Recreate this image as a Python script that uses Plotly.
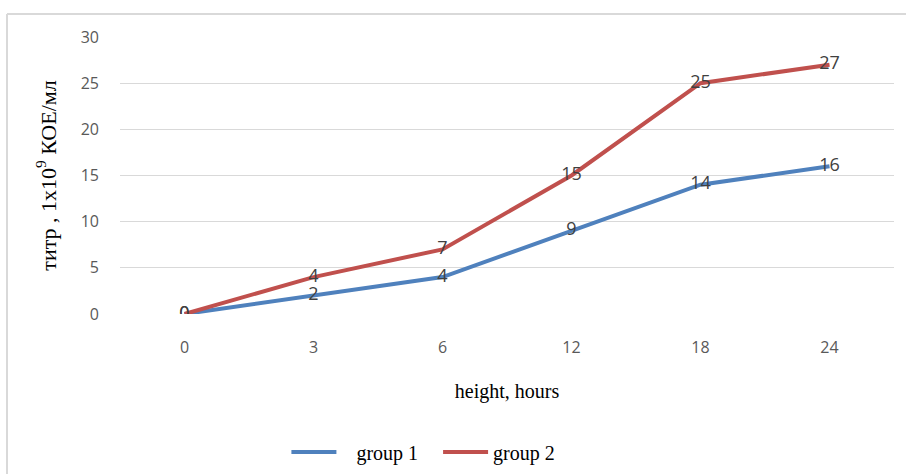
import plotly.graph_objects as go

hours = ["0", "3", "6", "12", "18", "24"]
group1 = [0, 2, 4, 9, 14, 16]
group2 = [0, 4, 7, 15, 25, 27]
y_ticks = [0, 5, 10, 15, 20, 25, 30]

NB = "\u00a0"
series = [("group 1", group1, "#4F81BD", NB * 3 + "group 1" + NB * 3),
          ("group 2", group2, "#C0504D", "group 2")]

fig = go.Figure()
for name, vals, color, label in series:
    fig.add_trace(go.Scatter(
        x=hours, y=vals, name=label, mode="lines",
        line=dict(color=color, width=4),
    ))
for name, vals, color, label in series:
    fig.add_trace(go.Scatter(
        x=hours, y=vals, mode="text", showlegend=False,
        text=[str(v) for v in vals], textposition="middle center",
        textfont=dict(family="Open Sans, Liberation Sans", size=18, color="#404040"),
    ))

fig.update_layout(
    width=906, height=474,
    margin=dict(l=120, r=12, t=37, b=160, autoexpand=False),
    paper_bgcolor="white", plot_bgcolor="white",
    showlegend=True,
    legend=dict(orientation="h", x=0.215, xanchor="left", y=-0.498, yanchor="middle",
                font=dict(family="Liberation Serif", size=20, color="#000000"),
                itemwidth=45, tracegroupgap=0),
    xaxis=dict(type="category", range=[-0.5, 5.5], showgrid=False, zeroline=False, showline=False,
               ticks="", ticklabelstandoff=22,
               tickfont=dict(family="Open Sans, Liberation Sans", size=16, color="#595959"),
               title=dict(text="height, hours", standoff=26,
                          font=dict(family="Liberation Serif", size=20, color="#000000"))),
    yaxis=dict(range=[0, 30], tickvals=y_ticks, showgrid=True, gridcolor="#d9d9d9", gridwidth=1,
               zeroline=False, showline=False, ticks="", ticklabelstandoff=20,
               tickfont=dict(family="Open Sans, Liberation Sans", size=16, color="#595959"),
               title=dict(text="титр , 1x10<sup>9</sup> КОЕ/мл", standoff=18,
                          font=dict(family="Liberation Serif", size=22, color="#000000"))),
)

fig.add_shape(type="line", xref="paper", yref="paper", x0=(7-120)/774, x1=(906-120)/774,
              y0=(314-14)/277, y1=(314-14)/277, line=dict(color="#d9d9d9", width=2))
fig.add_shape(type="line", xref="paper", yref="paper", x0=(7-120)/774, x1=(7-120)/774,
              y0=(314-14)/277, y1=(314-474)/277, line=dict(color="#d9d9d9", width=2))

fig.write_html("out.html")
